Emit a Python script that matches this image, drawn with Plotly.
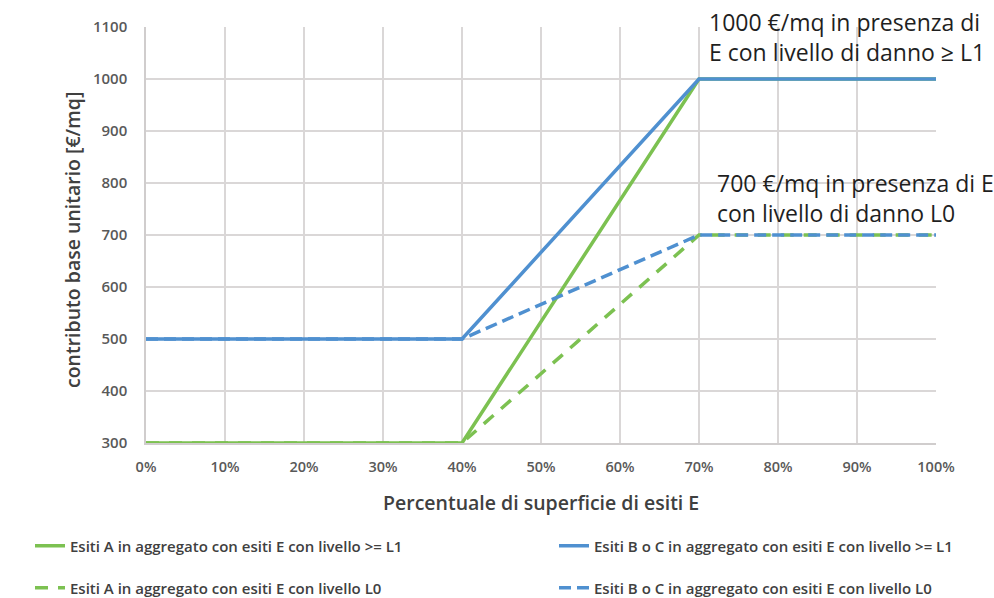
import plotly.graph_objects as go

# Percentuale di superficie di esiti E (%)
x_pct = [0, 40, 70, 100]

# Contributo base unitario [€/mq]
a_l1 = [300, 300, 1000, 1000]   # Esiti A, E con livello >= L1
bc_l1 = [500, 500, 1000, 1000]  # Esiti B o C, E con livello >= L1
a_l0 = [300, 300, 700, 700]     # Esiti A, E con livello L0
bc_l0 = [500, 500, 700, 700]    # Esiti B o C, E con livello L0

x_ticks = [0, 10, 20, 30, 40, 50, 60, 70, 80, 90, 100]
x_tick_text = [f"{v}%" for v in x_ticks]
y_ticks = [300, 400, 500, 600, 700, 800, 900, 1000, 1100]

GREEN = "#7cc151"
BLUE = "#4f90d0"
FONT = "Open Sans"
GREY = "#595959"
DARK = "#404040"

series = [
    ("Esiti A in aggregato con esiti E con livello >= L1", a_l1, GREEN, "solid", "legend"),
    ("Esiti B o C in aggregato con esiti E con livello >= L1", bc_l1, BLUE, "solid", "legend2"),
    ("Esiti A in aggregato con esiti E con livello L0", a_l0, GREEN, "13px,10px", "legend3"),
    ("Esiti B o C in aggregato con esiti E con livello L0", bc_l0, BLUE, "12px,6px", "legend4"),
]

fig = go.Figure()
for name, vals, color, dash, leg in series:
    fig.add_trace(go.Scatter(
        x=x_pct, y=vals, mode="lines", name=name, showlegend=True,
        line=dict(color=color, width=3.5, dash=dash), legend=leg,
    ))


def legend_box(x_px, y_px):
    # one legend per entry, placed in page pixels (container coordinates)
    return dict(
        visible=True,
        xref="container", yref="container",
        x=x_px / 994, y=1 - y_px / 598,
        xanchor="left", yanchor="middle",
        font=dict(family=FONT, size=15, color=DARK, weight=600),
        bgcolor="rgba(0,0,0,0)", itemwidth=30,
    )


fig.update_layout(
    width=994, height=598,
    showlegend=True,
    margin=dict(l=146, r=58, t=27, b=155, autoexpand=False),
    paper_bgcolor="white", plot_bgcolor="white",
    font=dict(family=FONT, color=GREY),
    legend=legend_box(30, 546),
    legend2=legend_box(554, 546),
    legend3=legend_box(30, 588),
    legend4=legend_box(554, 588),
    xaxis=dict(
        range=[0, 100], tickvals=x_ticks, ticktext=x_tick_text,
        automargin=False,
        showgrid=True, gridcolor="#dad7d7", gridwidth=1.5,
        showline=True, linecolor="#d0cdcd", linewidth=1.5, zeroline=False,
        tickfont=dict(family=FONT, size=14.5, color=GREY, weight=600),
        ticks="outside", ticklen=10, tickcolor="rgba(0,0,0,0)",
    ),
    yaxis=dict(
        range=[300, 1100], tickvals=y_ticks,
        automargin=False,
        showgrid=True, gridcolor="#dad7d7", gridwidth=1.5,
        showline=True, linecolor="#d0cdcd", linewidth=1.5, zeroline=False,
        tickfont=dict(family=FONT, size=15, color=GREY, weight=600),
        ticks="outside", ticklen=14, tickcolor="rgba(0,0,0,0)",
    ),
    annotations=[
        # axis titles
        dict(text="Percentuale di superficie di esiti E",
             x=0.5, y=-0.142, xref="paper", yref="paper",
             xanchor="center", yanchor="middle", showarrow=False,
             font=dict(family=FONT, size=19.5, color=DARK, weight=600)),
        dict(text="contributo base unitario [€/mq]", textangle=-90,
             x=-0.0924, y=0.488, xref="paper", yref="paper",
             xanchor="center", yanchor="middle", showarrow=False,
             font=dict(family=FONT, size=19.5, color=DARK, weight=600)),
        # value notes
        dict(text="1000 €/mq in presenza di<br>E con livello di danno ≥ L1",
             x=71, y=1081, xref="x", yref="y", xanchor="left", yanchor="middle",
             align="left", showarrow=False,
             font=dict(family=FONT, size=23, color="#1f1f1f")),
        dict(text="700 €/mq in presenza di E<br>con livello di danno L0",
             x=72, y=771, xref="x", yref="y", xanchor="left", yanchor="middle",
             align="left", showarrow=False,
             font=dict(family=FONT, size=23, color="#1f1f1f")),
    ],
)

fig.write_html("out.html")
